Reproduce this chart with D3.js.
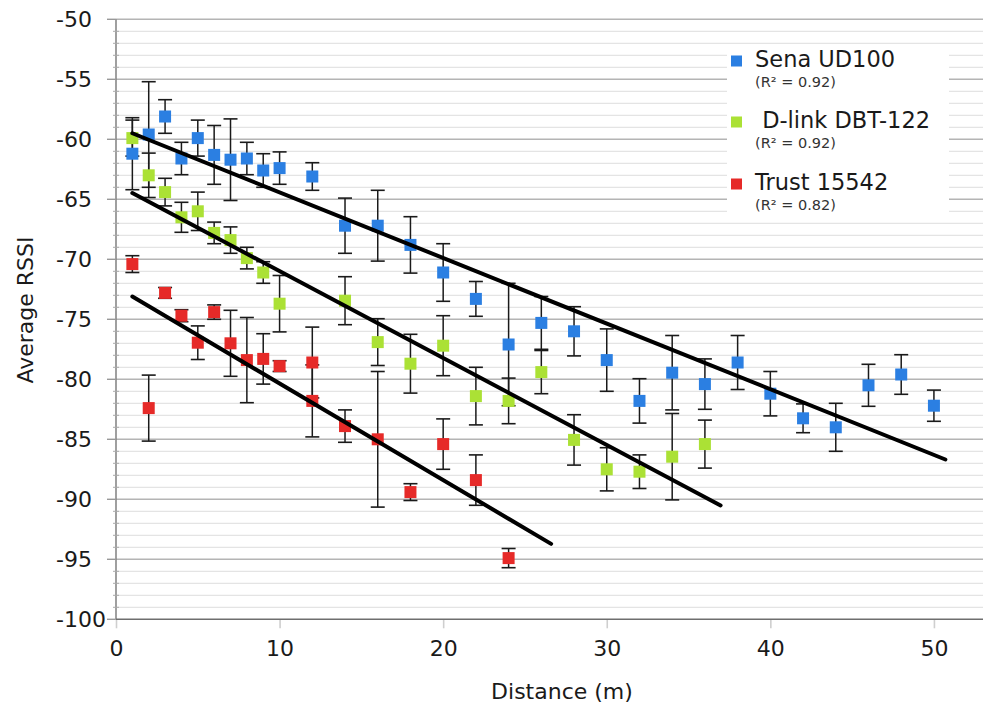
<!DOCTYPE html>
<html>
<head>
<meta charset="utf-8">
<script src="https://cdn.jsdelivr.net/npm/d3@7"></script>
<style>
  html, body { margin: 0; padding: 0; background: #fff; }
  svg { display: block; font-family: "DejaVu Sans", sans-serif; }
</style>
</head>
<body>
<svg id="chart" width="984" height="706"></svg>
<script>
// ---------- data ----------
const seriesNames = ["Sena UD100", " D-link DBT-122", "Trust 15542"];
const rSquaredLabels = ["(R² = 0.92)", "(R² = 0.92)", "(R² = 0.82)"];
const seriesColors = ["#2b7fe2", "#abe135", "#e62a28"];

const senaDistance = [1,2,3,4,5,6,7,8,9,10,12,14,16,18,20,22,24,26,28,30,32,34,36,38,40,42,44,46,48,50];
const senaRSSI = [-61.2,-59.6,-58.1,-61.6,-59.9,-61.3,-61.7,-61.6,-62.6,-62.4,-63.1,-67.2,-67.2,-68.8,-71.1,-73.3,-77.1,-75.3,-76.0,-78.4,-81.8,-79.45,-80.4,-78.6,-81.2,-83.25,-84.0,-80.5,-79.6,-82.2];
const senaErr = [3.0,4.4,1.4,1.35,1.5,2.45,3.4,1.35,1.4,1.35,1.15,2.3,2.95,2.35,2.4,1.45,5.1,2.2,2.05,2.6,1.85,3.1,2.1,2.25,1.85,1.2,2.0,1.75,1.65,1.3];

const dlinkDistance = [1,2,3,4,5,6,7,8,9,10,14,16,18,20,22,24,26,28,30,32,34,36];
const dlinkRSSI = [-59.9,-63.0,-64.4,-66.5,-66.0,-67.8,-68.4,-69.9,-71.1,-73.7,-73.45,-76.9,-78.7,-77.2,-81.4,-81.8,-79.4,-85.05,-87.5,-87.7,-86.45,-85.4];
const dlinkErr = [1.5,1.85,1.15,1.25,1.6,0.9,1.1,0.9,0.9,2.35,2.0,1.95,2.45,2.5,2.4,1.9,1.8,2.1,1.8,1.4,3.6,2.0];

const trustDistance = [1,2,3,4,5,6,7,8,9,10,12,12,14,16,18,20,22,24];
const trustRSSI = [-70.4,-82.4,-72.8,-74.7,-76.95,-74.4,-77.0,-78.4,-78.3,-78.9,-78.6,-81.8,-83.9,-85.0,-89.4,-85.4,-88.4,-94.9];
const trustErr = [0.7,2.75,0.45,0.5,1.4,0.6,2.75,3.55,2.1,0.45,2.95,3.0,1.35,5.65,0.7,2.1,2.1,0.8];

// linear trend lines
const trendSlope = [-0.547, -0.724, -0.805];
const trendIntercept = [-58.95, -63.75, -72.3];
const trendFrom = [1, 1, 1];
const trendTo = [50.7, 36.96, 26.6];

const xTicks = [0,10,20,30,40,50];
const yTicks = [-50,-55,-60,-65,-70,-75,-80,-85,-90,-95,-100];
const xTitle = "Distance (m)";
const yTitle = "Average RSSI";

(function () {
const series = [
  {x: senaDistance, y: senaRSSI, e: senaErr},
  {x: dlinkDistance, y: dlinkRSSI, e: dlinkErr},
  {x: trustDistance, y: trustRSSI, e: trustErr}
].map((s, i) => ({
  name: seriesNames[i], r2: rSquaredLabels[i], color: seriesColors[i],
  points: s.x.map((d, j) => ({d, v: s.y[j], err: s.e[j]})),
  slope: trendSlope[i], intercept: trendIntercept[i], from: trendFrom[i], to: trendTo[i]
}));

const svg = d3.select("#chart");
const pLeft = 116, pRight = 983, pTop = 19.3, pBottom = 619.3;
const x = d3.scaleLinear().domain([0, 53]).range([pLeft, pRight]);
const y = d3.scaleLinear().domain([-100, -50]).range([pBottom, pTop]);

// minor gridlines every 1
const minor = d3.range(-99, -50, 1).filter(v => v % 5 !== 0);
svg.append("g").selectAll("line").data(minor).join("line")
  .attr("x1", pLeft).attr("x2", pRight)
  .attr("y1", d => y(d)).attr("y2", d => y(d))
  .attr("stroke", "#e4e4e4").attr("stroke-width", 1.2);
// major gridlines
svg.append("g").selectAll("line").data(yTicks.filter(v => v !== -100)).join("line")
  .attr("x1", pLeft).attr("x2", pRight)
  .attr("y1", d => y(d)).attr("y2", d => y(d))
  .attr("stroke", "#b4b4b4").attr("stroke-width", 1.4);

// y axis
const yAxis = svg.append("g").attr("transform", `translate(${pLeft},0)`);
yAxis.append("line").attr("x1", 0).attr("x2", 0).attr("y1", pTop).attr("y2", pBottom)
  .attr("stroke", "#888").attr("stroke-width", 1.6);
yAxis.selectAll("line.minor").data(minor).join("line").attr("class", "minor")
  .attr("x1", -3).attr("x2", 3).attr("y1", d => y(d)).attr("y2", d => y(d))
  .attr("stroke", "#aaa").attr("stroke-width", 1);
yAxis.selectAll("line.major").data(yTicks).join("line").attr("class", "major")
  .attr("x1", -9).attr("x2", 0).attr("y1", d => y(d)).attr("y2", d => y(d))
  .attr("stroke", "#999").attr("stroke-width", 1.4);
svg.append("g").selectAll("text").data(yTicks).join("text")
  .attr("x", 56).attr("y", d => y(d))
  .attr("dominant-baseline", "central")
  .attr("font-size", 22).attr("fill", "#1a1a1a")
  .text(d => String(d));

// x axis
const xAxisG = svg.append("g").attr("transform", `translate(0,${pBottom})`)
  .call(d3.axisBottom(x).tickValues(xTicks).tickSize(9).tickPadding(12).tickFormat(d => String(d)));
xAxisG.select(".domain").remove();
xAxisG.selectAll(".tick line").attr("stroke", "#cfcfcf").attr("stroke-width", 1.6);
xAxisG.selectAll(".tick text").attr("font-size", 22).attr("fill", "#1a1a1a")
  .attr("font-family", "DejaVu Sans, sans-serif");
svg.append("line").attr("x1", pLeft).attr("x2", pRight).attr("y1", pBottom).attr("y2", pBottom)
  .attr("stroke", "#6e6e6e").attr("stroke-width", 1.6);

// axis titles
svg.append("text").attr("x", 562).attr("y", 699).attr("text-anchor", "middle")
  .attr("font-size", 22).attr("fill", "#1a1a1a").text(xTitle);
svg.append("text").attr("transform", "translate(33,310) rotate(-90)")
  .attr("text-anchor", "middle").attr("font-size", 22).attr("fill", "#1a1a1a").text(yTitle);

// error bars
const cap = 7;
series.forEach(s => {
  const g = svg.append("g");
  g.selectAll("line.v").data(s.points).join("line").attr("class", "v")
    .attr("x1", d => x(d.d)).attr("x2", d => x(d.d))
    .attr("y1", d => y(d.v + d.err)).attr("y2", d => y(d.v - d.err))
    .attr("stroke", "#1a1a1a").attr("stroke-width", 1.5);
  g.selectAll("line.t").data(s.points).join("line").attr("class", "t")
    .attr("x1", d => x(d.d) - cap).attr("x2", d => x(d.d) + cap)
    .attr("y1", d => y(d.v + d.err)).attr("y2", d => y(d.v + d.err))
    .attr("stroke", "#1a1a1a").attr("stroke-width", 1.6);
  g.selectAll("line.b").data(s.points).join("line").attr("class", "b")
    .attr("x1", d => x(d.d) - cap).attr("x2", d => x(d.d) + cap)
    .attr("y1", d => y(d.v - d.err)).attr("y2", d => y(d.v - d.err))
    .attr("stroke", "#1a1a1a").attr("stroke-width", 1.6);
});

// markers
const ms = 12;
series.forEach(s => {
  svg.append("g").selectAll("rect").data(s.points).join("rect")
    .attr("x", d => x(d.d) - ms / 2).attr("y", d => y(d.v) - ms / 2)
    .attr("width", ms).attr("height", ms).attr("fill", s.color);
});

// trend lines
const line = d3.line().x(d => x(d[0])).y(d => y(d[1]));
series.forEach(s => {
  const pts = [s.from, s.to].map(d => [d, s.intercept + s.slope * d]);
  svg.append("path").attr("d", line(pts)).attr("fill", "none")
    .attr("stroke", "#000").attr("stroke-width", 4).attr("stroke-linecap", "round");
});

// legend
const lg = svg.append("g");
lg.append("rect").attr("x", 727).attr("y", 46).attr("width", 222).attr("height", 168).attr("fill", "#fff");
const legendY = [61, 122, 184];
series.forEach((s, i) => {
  lg.append("rect").attr("x", 731).attr("y", legendY[i] - 5.5).attr("width", 11).attr("height", 11).attr("fill", s.color);
  lg.append("text").attr("x", 755).attr("y", legendY[i] + 6).attr("font-size", 22.5)
    .attr("fill", "#1a1a1a").style("white-space", "pre").text(s.name);
  lg.append("text").attr("x", 755).attr("y", legendY[i] + 26).attr("font-size", 14.5)
    .attr("fill", "#333").text(s.r2);
});
})();
</script>
</body>
</html>
